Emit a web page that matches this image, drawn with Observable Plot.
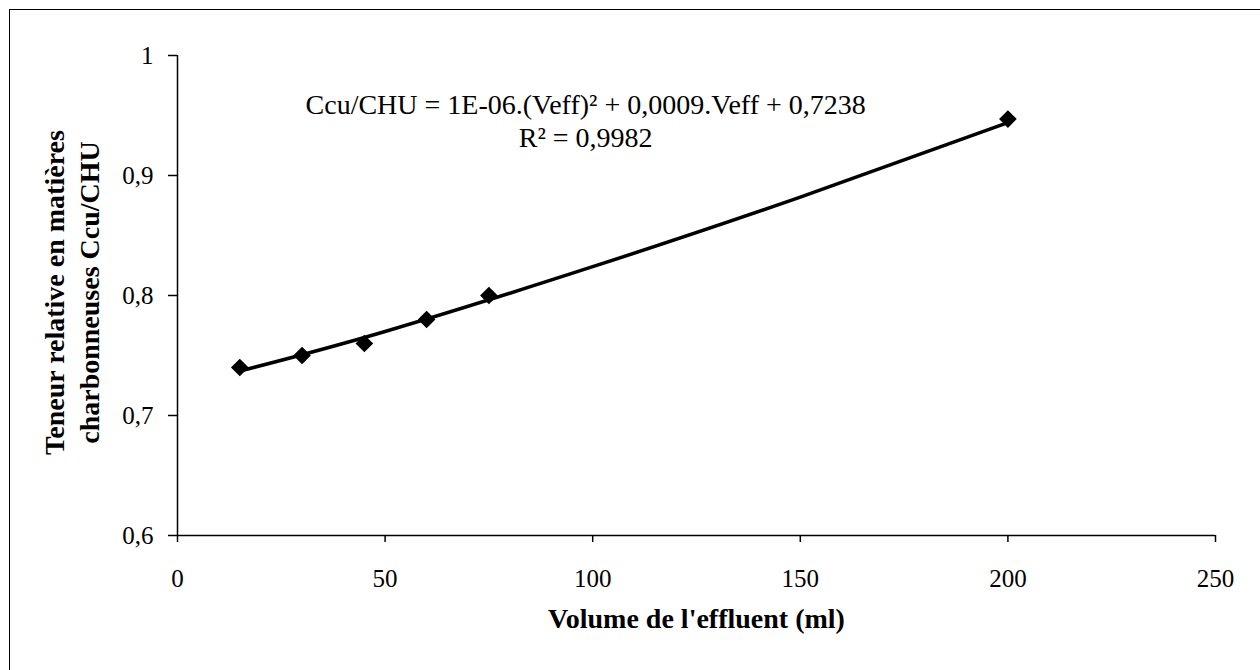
<!DOCTYPE html>
<html><head><meta charset="utf-8">
<script src="https://cdn.jsdelivr.net/npm/d3@7"></script>
<script src="https://cdn.jsdelivr.net/npm/@observablehq/plot@0.6"></script>
<style>
body{margin:0;background:#fff;}
#wrap{position:relative;width:1260px;height:670px;overflow:hidden;}
#border{position:absolute;left:9px;top:9px;width:1300px;height:700px;border-left:1.5px solid #000;border-top:1.5px solid #000;pointer-events:none;}
svg{display:block;}
</style></head><body><div id="wrap"></div>
<script>
// Data
const volumes = [15, 30, 45, 60, 75, 200];
const ratios = [0.74, 0.75, 0.76, 0.78, 0.80, 0.947];
const trendVolumes = [15, 50, 100, 150, 200];
const trendRatios = [0.737, 0.770, 0.824, 0.882, 0.944];
const xTicks = [0, 50, 100, 150, 200, 250];
const yTicks = [0.6, 0.7, 0.8, 0.9, 1];
const equationText = "Ccu/CHU = 1E-06.(Veff)² + 0,0009.Veff + 0,7238";
const r2Text = "R² = 0,9982";
const xTitle = "Volume de l'effluent (ml)";
const yTitleLines = ["Teneur relative en matières", "charbonneuses Ccu/CHU"];
const annotationX = [98.3, 98.3];
const annotationY = [0.959, 0.931];

const points = volumes.map((v, i) => ({x: v, y: ratios[i]}));
const trend = trendVolumes.map((v, i) => ({x: v, y: trendRatios[i]}));
const annotations = [equationText, r2Text].map((t, i) => ({t, x: annotationX[i], y: annotationY[i]}));
const fmt = d => d === 1 ? "1" : d3.format(".1f")(d).replace(".", ",");

const chart = Plot.plot({
  width: 1260,
  height: 670,
  marginLeft: 177,
  marginRight: 45,
  marginTop: 55,
  marginBottom: 135,
  style: {fontFamily: "'Liberation Serif', 'Times New Roman', serif", fontSize: "25px", color: "#000", background: "#fff"},
  x: {domain: [0, 250]},
  y: {domain: [0.6, 1]},
  marks: [
    Plot.axisY({ticks: yTicks, tickSize: 9, tickPadding: 15, tickFormat: fmt, label: null, fontSize: 25, strokeWidth: 1.5}),
    Plot.axisX({ticks: xTicks, tickSize: 7, tickPadding: 27, label: null, fontSize: 25, strokeWidth: 1.5}),
    Plot.ruleX([0], {stroke: "#000", strokeWidth: 1.5}),
    Plot.ruleY([0.6], {stroke: "#000", strokeWidth: 1.5}),
    Plot.line(trend, {x: "x", y: "y", stroke: "#000", strokeWidth: 3.5, curve: "natural"}),
    Plot.dot(points, {x: "x", y: "y", symbol: "diamond2", r: 7, fill: "#000", stroke: "#000"}),
    Plot.text(annotations, {x: "x", y: "y", text: "t", fontSize: 28, fill: "#000"}),
    Plot.text([xTitle], {frameAnchor: "bottom", dy: 92, fontWeight: "bold", fontSize: 28, fill: "#000"}),
    Plot.text([yTitleLines[0]], {frameAnchor: "left", textAnchor: "middle", rotate: -90, dx: -122, dy: -3, fontWeight: "bold", fontSize: 28, fill: "#000"}),
    Plot.text([yTitleLines[1]], {frameAnchor: "left", textAnchor: "middle", rotate: -90, dx: -87, dy: -3, fontWeight: "bold", fontSize: 28, fill: "#000"})
  ]
});
const wrap = document.getElementById("wrap");
wrap.appendChild(chart);
const border = document.createElement("div");
border.id = "border";
wrap.appendChild(border);
</script>
</body></html>
